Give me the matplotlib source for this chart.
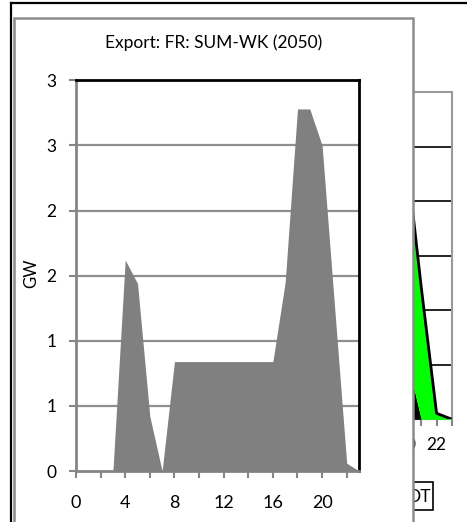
import matplotlib
matplotlib.use("Agg")
import matplotlib.pyplot as plt
from matplotlib.patches import Rectangle
from matplotlib.lines import Line2D
from matplotlib.ticker import FixedLocator, FuncFormatter

plt.rcParams['font.family'] = ['Lato', 'DejaVu Sans']

# Export profile, France, summer weekday (2050), GW per hour
hours = list(range(24))
export_gw = [0, 0, 0, 0, 1.62, 1.44, 0.42, 0, 0.84, 0.84, 0.84, 0.84,
             0.84, 0.84, 0.84, 0.84, 0.84, 1.45, 2.78, 2.78, 2.5, 1.28, 0.06, 0]

# Chart underneath: only its last hours are in view
bg_hours = [20, 21, 22, 23]
bg_black = [1.2, 0, 0, 0]
bg_green = [3.74, 2.43, 0.11, 0]
bg_tick_labels = {20: "20", 22: "22"}

title = "Export: FR: SUM-WK (2050)"
ylabel = "GW"

W, H = 467, 522
fig = plt.figure(figsize=(W / 100, H / 100), dpi=100)


def fx(x):
    return x / W


def fy(y):
    return 1 - y / H


def rect(l, t, r, b):
    return [fx(l), fy(b), fx(r) - fx(l), fy(t) - fy(b)]


GRAY = "#858585"

# ---- chart underneath ----
bg = fig.add_axes(rect(97.8, 92, 452, 419.3), zorder=0)
bg.set_xlim(0, 23)
bg.set_ylim(0, 6)
lower = bg_black
upper = [a + b for a, b in zip(bg_black, bg_green)]
bg.fill_between(bg_hours, 0, lower, color="black", lw=0, zorder=3)
bg.fill_between(bg_hours, lower, upper, color="#00FF00", lw=0, zorder=3)
bg.plot(bg_hours, upper, color="black", lw=2, zorder=4)
for v in range(1, 6):
    bg.axhline(v, color="#222222", lw=1.4, zorder=1)
for s in bg.spines.values():
    s.set_color("#9a9a9a")
    s.set_linewidth(1.5)
bg.set_yticks([])
bg.xaxis.set_major_locator(FixedLocator(hours))
bg.xaxis.set_major_formatter(FuncFormatter(lambda x, p: bg_tick_labels.get(int(round(x)), "")))
bg.tick_params(axis="x", length=5.3, width=1.5, color=GRAY, labelsize=12.5, pad=7.5)

# legend box of the chart underneath
fig.patches.append(Rectangle((fx(380), fy(510)), fx(433.3) - fx(380), fy(481.7) - fy(510),
                             transform=fig.transFigure, facecolor="white",
                             edgecolor="black", lw=1.2, zorder=0.5))
fig.text(fx(431), fy(497), "DT", ha="right", va="center", fontsize=12.5, zorder=0.6)

# outer frame
fig.lines.append(Line2D([fx(11), fx(467)], [fy(3), fy(3)], transform=fig.transFigure,
                        color="black", lw=1.6, zorder=0.5))
fig.lines.append(Line2D([fx(11), fx(11)], [fy(3), fy(522)], transform=fig.transFigure,
                        color="black", lw=1.6, zorder=0.5))

# ---- chart in front ----
fig.patches.append(Rectangle((fx(13.5), fy(540)), fx(413.3) - fx(13.5), fy(18) - fy(540),
                             transform=fig.transFigure, facecolor="white",
                             edgecolor="#8c8c8c", lw=1.8, zorder=1))

ax = fig.add_axes(rect(76, 80.3, 359, 471), zorder=2)
ax.set_xlim(0, 23)
ax.set_ylim(0, 3)
ax.fill_between(hours, 0, export_gw, color="#808080", lw=0, zorder=3)

yt = [0, 0.5, 1, 1.5, 2, 2.5, 3]
ax.set_yticks(yt)
ax.yaxis.set_major_formatter(FuncFormatter(lambda v, p: "%d" % int(v + 0.5)))
for v in yt[1:-1]:
    ax.axhline(v, color="#8f8f8f", lw=1.6, zorder=1)

ax.xaxis.set_major_locator(FixedLocator(list(range(0, 23, 2))))
ax.xaxis.set_major_formatter(FuncFormatter(lambda x, p: "%d" % x if int(round(x)) % 4 == 0 else ""))

ax.spines["left"].set_color(GRAY)
ax.spines["bottom"].set_color(GRAY)
ax.spines["left"].set_linewidth(2)
ax.spines["bottom"].set_linewidth(2)
ax.spines["top"].set_color("black")
ax.spines["right"].set_color("black")
ax.spines["top"].set_linewidth(2)
ax.spines["right"].set_linewidth(2)
ax.tick_params(axis="both", length=5, width=1.5, color=GRAY)
ax.tick_params(axis="x", pad=12.5, labelsize=13)
ax.tick_params(axis="y", pad=9, labelsize=12.5)

fig.text(fx(213.4), fy(43), title, ha="center", va="center", fontsize=12.5, zorder=3)
fig.text(fx(31), fy(273), ylabel, ha="center", va="center", rotation=90,
         fontsize=12, zorder=3)

fig.savefig("out.png", dpi=100)
